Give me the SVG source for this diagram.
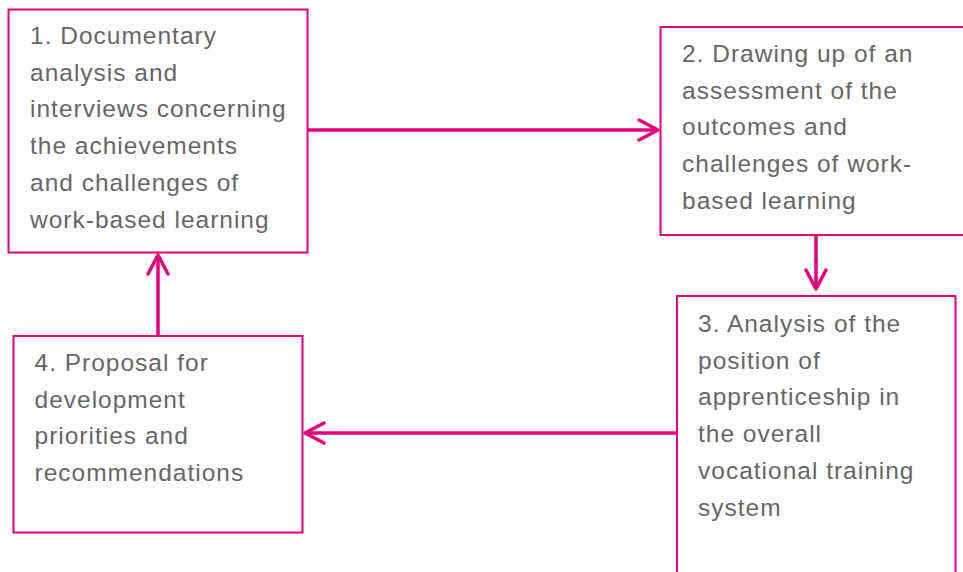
<svg xmlns="http://www.w3.org/2000/svg" width="963" height="572" viewBox="0 0 963 572">
<defs>
<style>
.box{fill:#ffffff;stroke:#E4007C;stroke-width:2}
.t{font-family:"Liberation Sans",Arial,sans-serif;font-size:24.5px;letter-spacing:1px;fill:#666666}
.c{stroke:#E4007C;stroke-width:3.5;fill:none}
</style>
<marker id="ah" markerUnits="userSpaceOnUse" markerWidth="26" markerHeight="26" viewBox="0 0 26 26" refX="22" refY="13" orient="auto">
<path d="M3,3 L22,13 L3,23" fill="none" stroke="#E4007C" stroke-width="3.5" stroke-linecap="round" stroke-linejoin="round"/>
</marker>
</defs>
<rect width="963" height="572" fill="#ffffff"/>
<g id="connectors">
<line class="c" x1="308" y1="130" x2="658" y2="130" marker-end="url(#ah)"/>
<line class="c" x1="816" y1="236" x2="816" y2="289" marker-end="url(#ah)"/>
<line class="c" x1="677" y1="433" x2="305" y2="433" marker-end="url(#ah)"/>
<line class="c" x1="158" y1="336" x2="158" y2="255" marker-end="url(#ah)"/>
</g>
<g id="node1">
<rect class="box" x="8.5" y="9.5" width="299" height="243"/>
<text class="t" x="30" y="44">1. Documentary</text>
<text class="t" x="30" y="80.7">analysis and</text>
<text class="t" x="30" y="117.4">interviews concerning</text>
<text class="t" x="30" y="154.1">the achievements</text>
<text class="t" x="30" y="190.8">and challenges of</text>
<text class="t" x="30" y="227.5">work-based learning</text>
</g>
<g id="node2">
<rect class="box" x="660.5" y="27" width="310" height="208"/>
<text class="t" x="682" y="62">2. Drawing up of an</text>
<text class="t" x="682" y="98.7">assessment of the</text>
<text class="t" x="682" y="135.4">outcomes and</text>
<text class="t" x="682" y="172.1">challenges of work-</text>
<text class="t" x="682" y="208.8">based learning</text>
</g>
<g id="node3">
<rect class="box" x="677" y="296" width="278.5" height="290"/>
<text class="t" x="698" y="332">3. Analysis of the</text>
<text class="t" x="698" y="368.7">position of</text>
<text class="t" x="698" y="405.4">apprenticeship in</text>
<text class="t" x="698" y="442.1">the overall</text>
<text class="t" x="698" y="478.8">vocational training</text>
<text class="t" x="698" y="515.5">system</text>
</g>
<g id="node4">
<rect class="box" x="13.5" y="336" width="289" height="196.5"/>
<text class="t" x="34.5" y="371">4. Proposal for</text>
<text class="t" x="34.5" y="407.7">development</text>
<text class="t" x="34.5" y="444.4">priorities and</text>
<text class="t" x="34.5" y="481.1">recommendations</text>
</g>
</svg>
